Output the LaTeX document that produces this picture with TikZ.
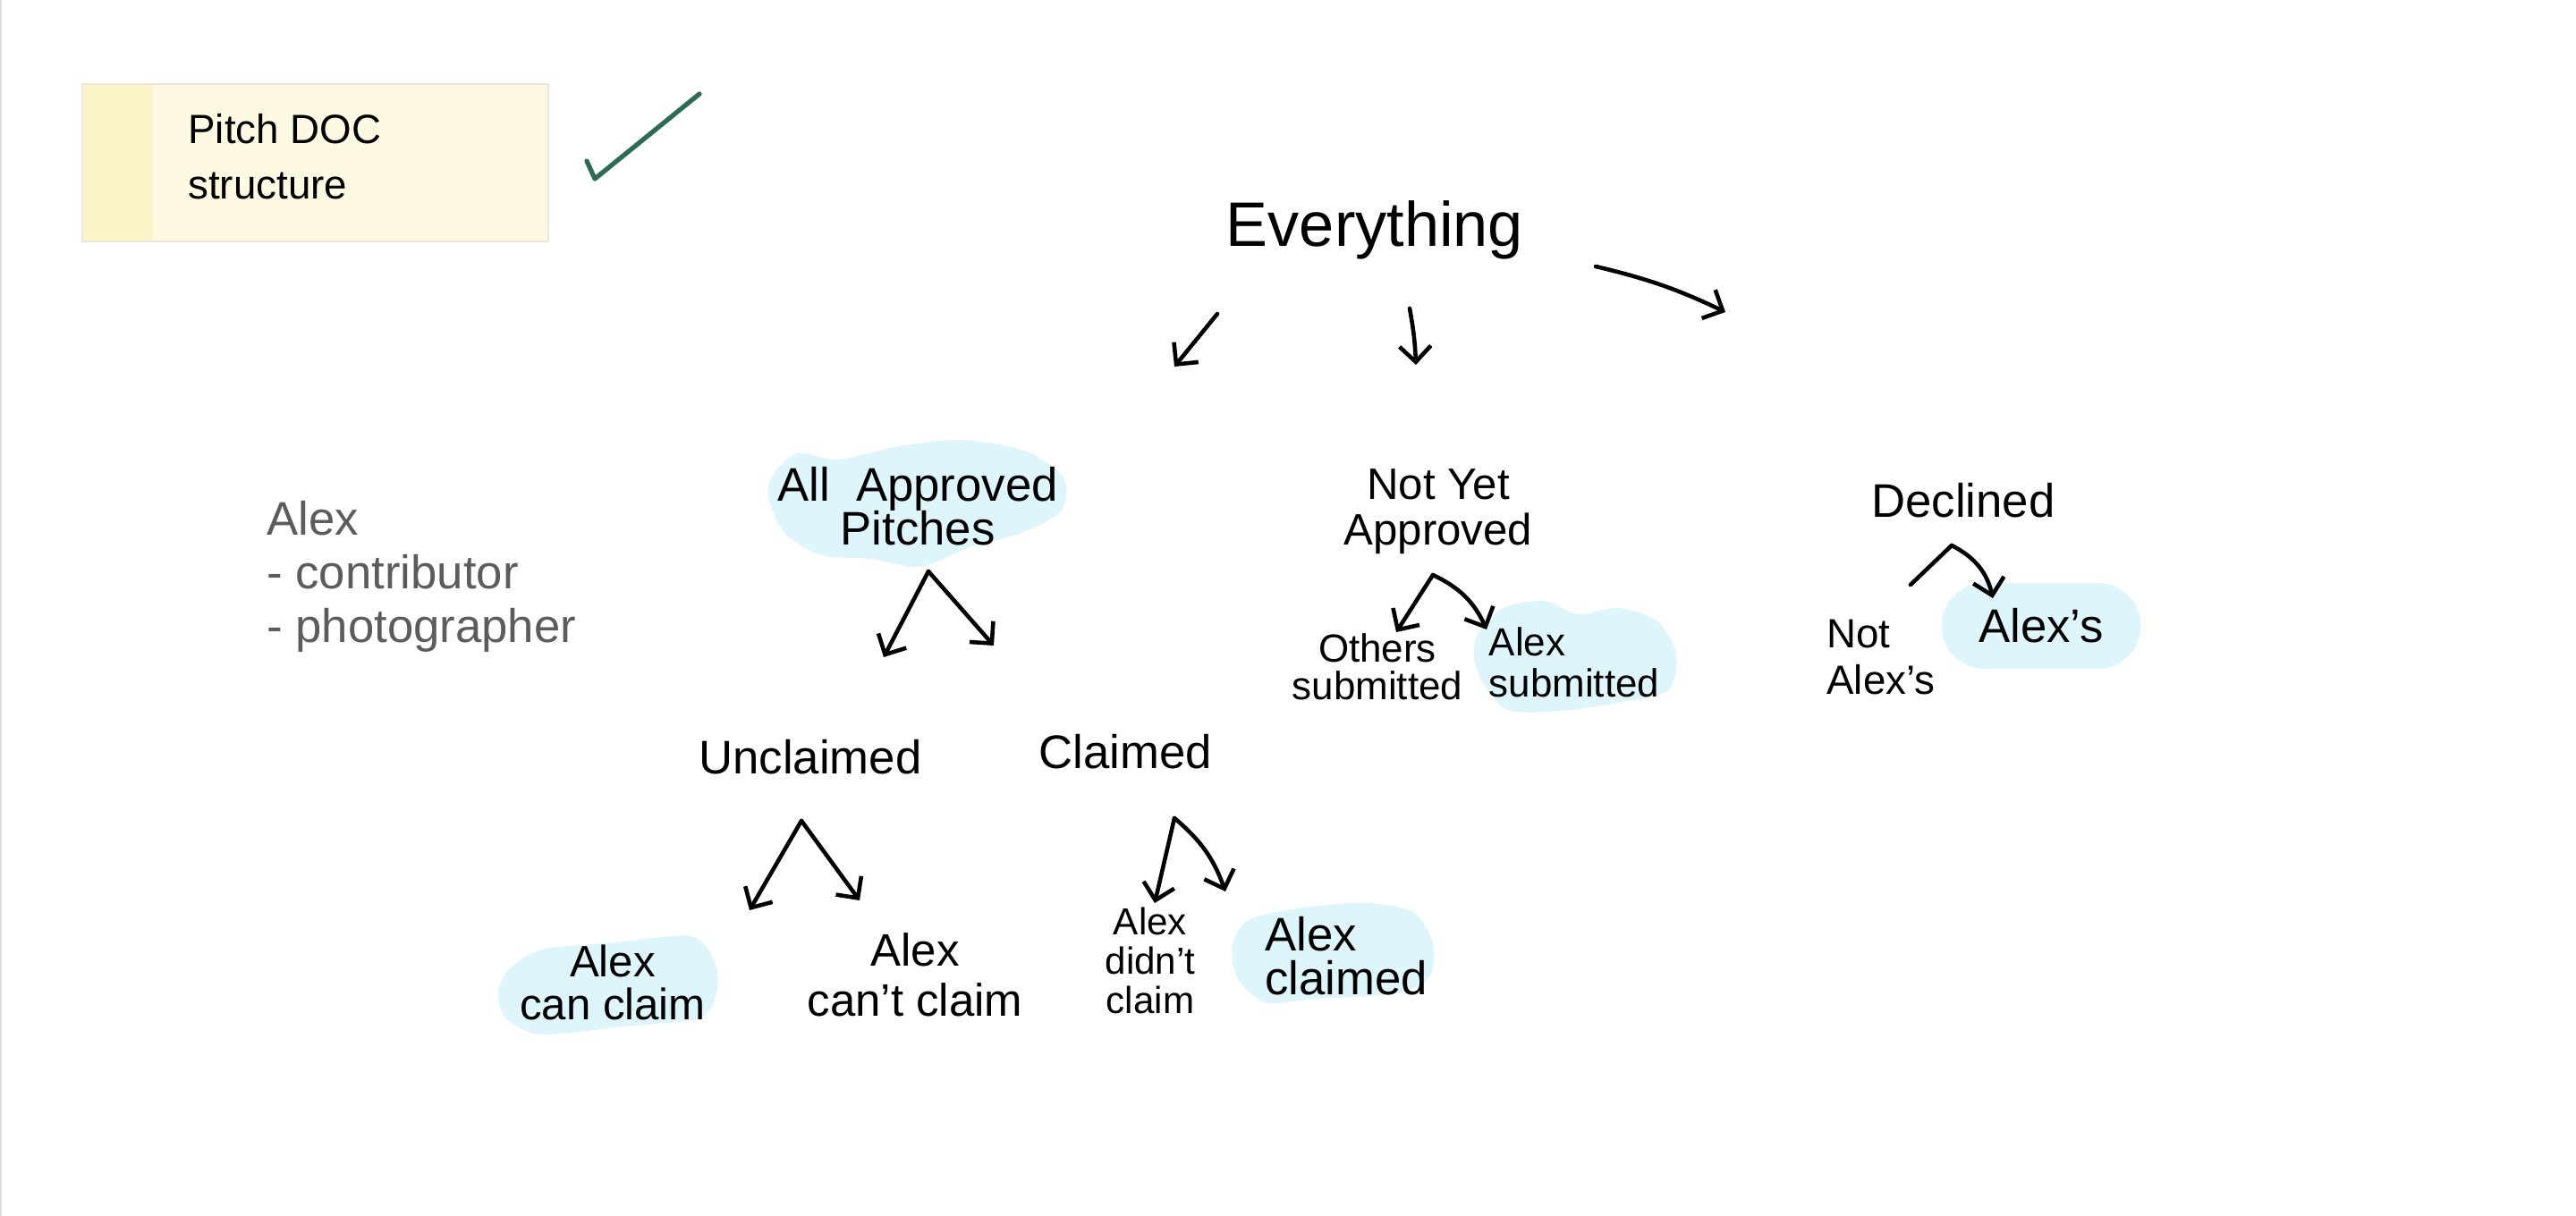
\documentclass[tikz,border=0pt]{standalone}
\usepackage{fontspec}
\setmainfont{Liberation Sans}
\usetikzlibrary{arrows.meta,calc,shapes.misc}
\definecolor{blobblue}{HTML}{DFF5FC}
\definecolor{notefill}{HTML}{FDF9E2}
\definecolor{notestrip}{HTML}{FBF3C8}
\definecolor{noteline}{HTML}{EDE5DA}
\definecolor{tickgreen}{HTML}{2E6B57}
\definecolor{pencil}{HTML}{5C5C5C}

\begin{document}
\begin{tikzpicture}[
  lbl/.style={align=center,inner sep=1pt},
  big/.style={lbl,font=\fontsize{15}{14}\selectfont},
  mid/.style={lbl,font=\fontsize{14}{14.5}\selectfont},
  small/.style={lbl,font=\fontsize{12.5}{12}\selectfont},
  arr/.style={-{Straight Barb[length=5pt,width=10pt]},line width=1.3pt,line cap=round,line join=round},
  stroke/.style={line width=1.3pt,line cap=round},
  blob/.style={fill=blobblue}]
\useasboundingbox (0,0) rectangle (28.8,-13.6);
\draw[black!13,line width=0.6pt] (0.01,0) -- (0.01,-13.6);

% sticky note + tick
\filldraw[fill=notefill,draw=noteline,line width=0.8pt] (0.92,-0.94) rectangle (6.13,-2.70);
\fill[notestrip] (0.93,-0.95) rectangle (1.71,-2.69);
\node[anchor=west,align=left,font=\fontsize{13}{17.7}\selectfont] (pitch) at (1.98,-1.75) {Pitch DOC\\structure};
\draw[tickgreen,line width=1.5pt,line cap=round,line join=round] (6.56,-1.80) -- (6.65,-2.00) -- (7.82,-1.05);

% highlight blobs
\fill[blob] plot[smooth cycle] coordinates {(8.63,-5.33) (8.91,-5.07) (9.37,-5.14) (10.01,-5.00) (10.75,-4.92) (11.48,-5.05) (11.90,-5.36) (11.85,-5.73) (11.39,-5.97) (10.84,-6.12) (10.29,-6.34) (9.74,-6.25) (9.19,-6.21) (8.78,-5.97) (8.60,-5.60)};
\fill[blob] plot[smooth cycle] coordinates {(16.53,-7.07) (16.81,-6.80) (17.27,-6.72) (17.64,-6.87) (18.09,-6.80) (18.52,-6.94) (18.74,-7.31) (18.65,-7.72) (18.09,-7.86) (17.45,-7.95) (16.86,-7.94) (16.57,-7.62) (16.48,-7.35)};
\fill[blob] plot[smooth cycle] coordinates {(5.69,-10.84) (6.06,-10.62) (6.89,-10.54) (7.72,-10.47) (7.99,-10.75) (8.01,-11.11) (7.81,-11.39) (6.98,-11.48) (6.06,-11.57) (5.66,-11.39) (5.57,-11.11)};
\fill[blob] plot[smooth cycle] coordinates {(13.96,-10.29) (14.51,-10.16) (15.25,-10.10) (15.80,-10.20) (16.02,-10.56) (15.98,-10.93) (15.61,-11.11) (14.70,-11.17) (14.14,-11.21) (13.83,-10.93) (13.78,-10.56)};

% tree
\node[lbl,font=\fontsize{20}{24}\selectfont] (ev) at (15.37,-2.57) {Everything};
\node[big] (all) at (10.26,-5.66) {All\ \ Approved\\Pitches};
\node[mid] (notyet) at (16.08,-5.72) {Not Yet\\Approved};
\node[big] (declined) at (21.95,-5.60) {Declined};
\node[small] (others) at (15.40,-7.46) {Others\\submitted};
\node[small,align=left,font=\fontsize{12.5}{13}\selectfont] (alexsub) at (17.60,-7.41) {Alex\\submitted};
\node[mid,align=left,font=\fontsize{13}{14.6}\selectfont] (notalex) at (21.03,-7.35) {Not\\Alex's};
\node[big,rounded rectangle,fill=blobblue,minimum width=2.3cm,minimum height=0.96cm] (alexs) at (22.82,-7.00) {Alex's};
\node[big] (unclaimed) at (9.06,-8.47) {Unclaimed};
\node[big] (claimed) at (12.58,-8.41) {Claimed};
\node[mid,font=\fontsize{14}{13.6}\selectfont] (cancl) at (6.85,-10.99) {Alex\\can claim};
\node[mid,font=\fontsize{14.5}{16}\selectfont] (cant) at (10.23,-10.90) {Alex\\can't claim};
\node[small,font=\fontsize{12}{12.5}\selectfont] (didnt) at (12.86,-10.74) {Alex\\didn't\\claim};
\node[mid,align=left,font=\fontsize{15}{14}\selectfont] (alexcl) at (15.05,-10.69) {Alex\\claimed};

% side note
\node[anchor=west,align=left,text=pencil,font=\fontsize{15}{17}\selectfont] (role) at (2.86,-6.45) {Alex\\- contributor\\- photographer};

% arrows
\draw[arr] ($(ev)+(-1.76,-0.94)$) -- ($(all)+(2.87,1.56)$);
\draw[arr] ($(ev)+(0.39,-0.88)$) to[bend left=4] ($(notyet)+(-0.25,1.64)$);
\draw[arr] ($(ev)+(2.47,-0.41)$) to[bend left=6] ($(declined)+(-2.66,2.11)$);
\draw[arr] ($(all)+(0.12,-0.73)$) -- ($(unclaimed)+(0.82,1.12)$);
\draw[arr] ($(all)+(0.12,-0.73)$) -- ($(claimed)+(-1.47,1.19)$);
\draw[arr] ($(notyet)+(-0.06,-0.71)$) -- ($(others)+(0.21,0.39)$);
\draw[arr] ($(notyet)+(-0.06,-0.71)$) to[bend left=20] ($(alexsub)+(-0.98,0.37)$);
\draw[stroke] ($(declined)+(-0.13,-0.50)$) -- ($(notalex)+(0.33,0.81)$);
\draw[arr] ($(declined)+(-0.13,-0.50)$) to[bend left=25] ($(alexs)+(-0.54,0.31)$);
\draw[arr] ($(unclaimed)+(-0.10,-0.71)$) -- ($(cancl)+(1.53,0.81)$);
\draw[arr] ($(unclaimed)+(-0.10,-0.71)$) -- ($(cant)+(-0.62,0.83)$);
\draw[arr] ($(claimed)+(0.55,-0.74)$) -- ($(didnt)+(0.05,0.64)$);
\draw[arr] ($(claimed)+(0.55,-0.74)$) to[bend left=15] ($(alexcl)+(-1.35,0.72)$);
\end{tikzpicture}
\end{document}
